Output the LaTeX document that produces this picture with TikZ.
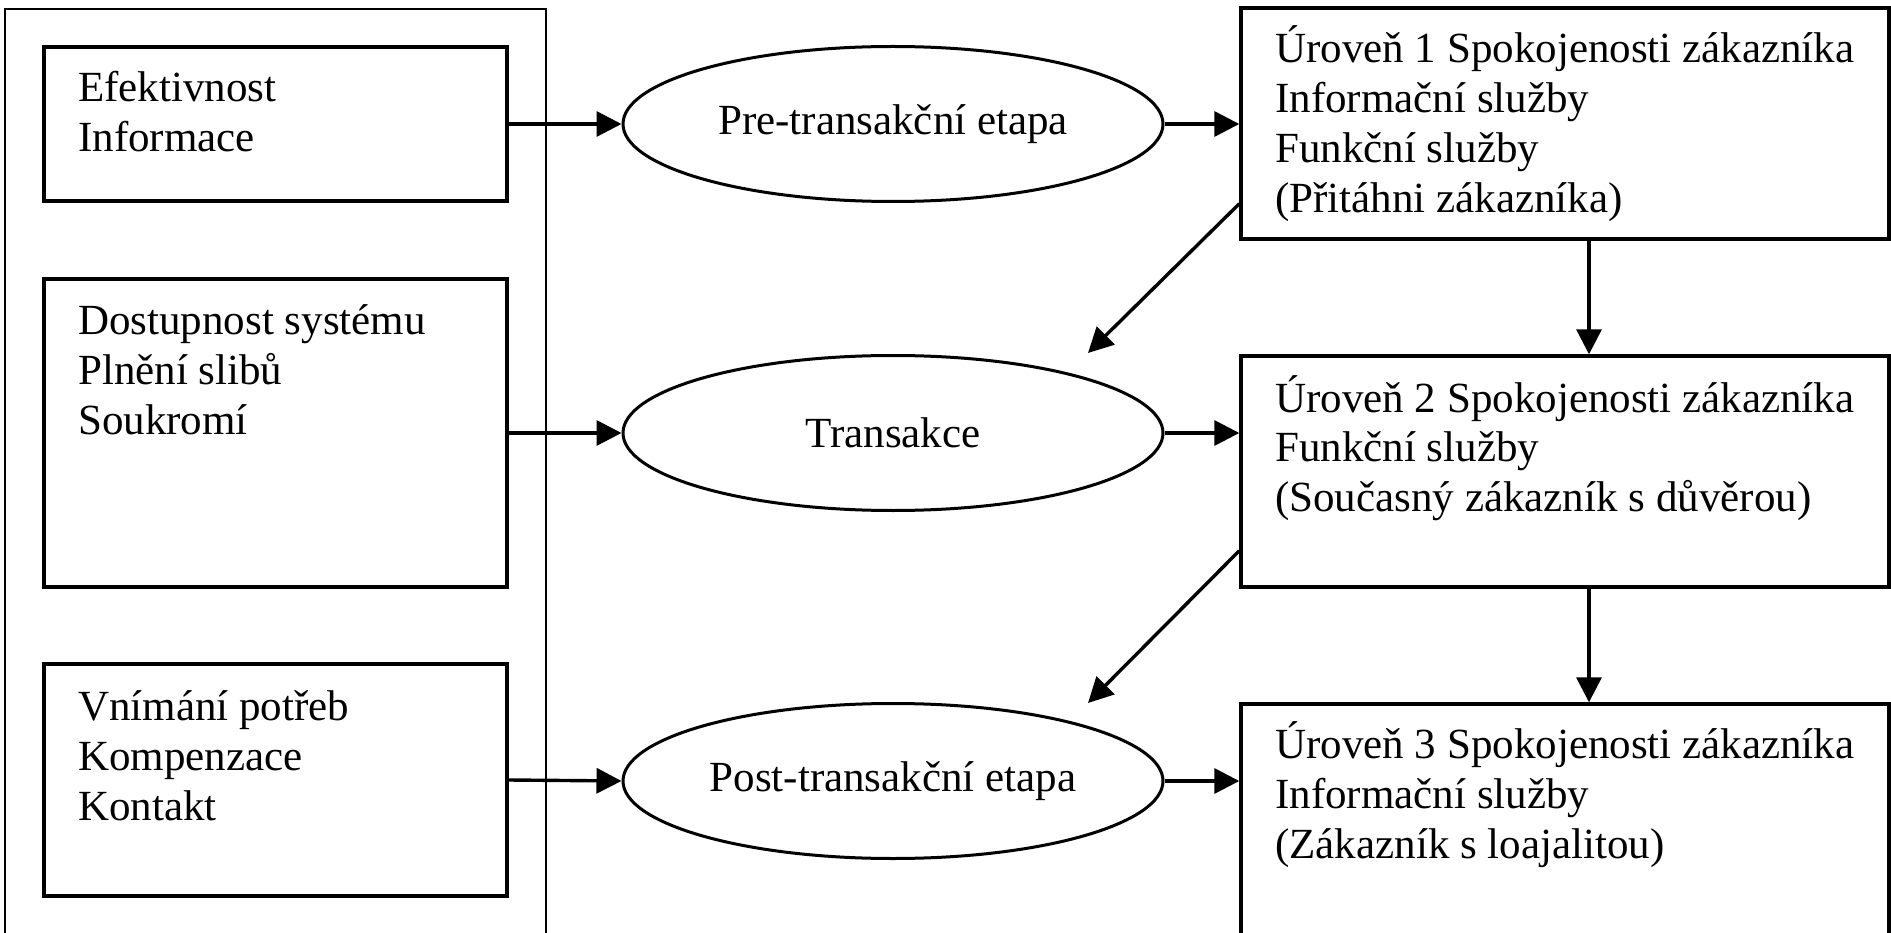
\documentclass[tikz,border=0pt]{standalone}
\usepackage{fontspec}
\setmainfont{Liberation Serif}
\usetikzlibrary{shapes.geometric,arrows.meta}
\begin{document}
\begin{tikzpicture}[x=1pt,y=-1pt,
  box/.style={draw, rectangle, line width=3.4pt, inner sep=0pt},
  frame/.style={draw, rectangle, line width=2.6pt, inner sep=0pt},
  stage/.style={draw, ellipse, line width=3pt, inner sep=0pt,
    minimum width=540pt, minimum height=155pt, font=\fontsize{43}{50}\selectfont},
  txt/.style={anchor=base west, inner sep=0pt, font=\fontsize{43}{50}\selectfont},
  arr/.style={line width=3.4pt, -{Triangle[length=25pt,width=25pt]}}
]
\useasboundingbox (0,0) rectangle (1891,933);
\clip (0,0) rectangle (1891,933);
\fill[white] (0,0) rectangle (1891,933);

% left frame and boxes
\node[frame, minimum width=541pt, minimum height=951pt] (fr) at (275.5,484.5) {};
\node[box, minimum width=463pt, minimum height=154pt] (b1) at (275.5,124) {};
\node[box, minimum width=463pt, minimum height=308pt] (b2) at (275.5,433) {};
\node[box, minimum width=463pt, minimum height=232pt] (b3) at (275.5,780) {};

\node[txt] (tb1) at (78,102) {\begin{tabular}[t]{@{}l@{}}Efektivnost\\Informace\end{tabular}};
\node[txt] (tb2) at (78,335) {\begin{tabular}[t]{@{}l@{}}Dostupnost systému\\Plnění slibů\\Soukromí\end{tabular}};
\node[txt] (tb3) at (78,720) {\begin{tabular}[t]{@{}l@{}}Vnímání potřeb\\Kompenzace\\Kontakt\end{tabular}};

% stages
\node[stage] (e1) at (893,124) {Pre-transakční etapa};
\node[stage] (e2) at (893,433) {Transakce};
\node[stage] (e3) at (893,781) {Post-transakční etapa};

% right boxes
\node[box, minimum width=648pt, minimum height=231pt] (r1) at (1565,123.5) {};
\node[box, minimum width=648pt, minimum height=231pt] (r2) at (1565,471.5) {};
\node[box, minimum width=648pt, minimum height=256pt] (r3) at (1565,832) {};

\node[txt] (tr1) at (1275,63) {\begin{tabular}[t]{@{}l@{}}Úroveň 1 Spokojenosti zákazníka\\Informační služby\\Funkční služby\\(Přitáhni zákazníka)\end{tabular}};
\node[txt] (tr2) at (1275,412) {\begin{tabular}[t]{@{}l@{}}Úroveň 2 Spokojenosti zákazníka\\Funkční služby\\(Současný zákazník s důvěrou)\end{tabular}};
\node[txt] (tr3) at (1275,758) {\begin{tabular}[t]{@{}l@{}}Úroveň 3 Spokojenosti zákazníka\\Informační služby\\(Zákazník s loajalitou)\end{tabular}};

\coordinate (d1) at (1088,353);
\coordinate (d2) at (1088,703);

% connectors
\draw[arr] (b1.east) -- (e1.west);
\draw[arr] (b2.east) -- (e2.west);
\draw[arr] (b3.east) -- (e3.west);
\draw[arr] (e1.east) -- (e1.east -| r1.west);
\draw[arr] (e2.east) -- (e2.east -| r2.west);
\draw[arr] (e3.east) -- (e3.east -| r3.west);
\draw[arr] ([xshift=24pt]r1.south) -- ([xshift=24pt]r2.north);
\draw[arr] ([xshift=24pt]r2.south) -- ([xshift=24pt]r3.north);
\draw[arr] ([yshift=37pt]r1.south west) -- (d1);
\draw[arr] ([yshift=38pt]r2.south west) -- (d2);
\end{tikzpicture}
\end{document}
